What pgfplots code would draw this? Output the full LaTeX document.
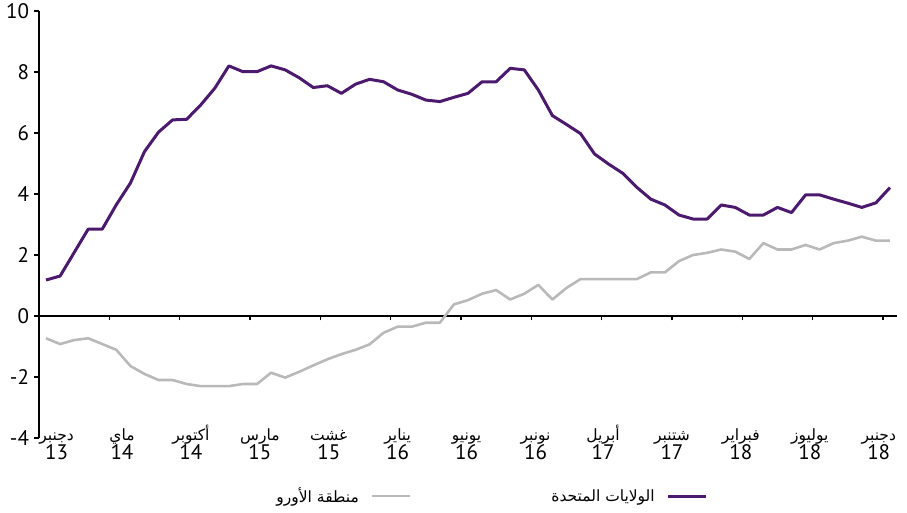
\documentclass[border=0pt]{standalone}
\usepackage{pgfplots}
\pgfplotsset{compat=1.18}
\usepackage{pgfplotstable}
\usepackage{fontspec}
\setmainfont{PT Sans}
\newfontfamily\arabicfont[Script=Arabic]{DejaVu Sans}
\TeXXeTstate=1
\newcommand{\AR}[1]{{\arabicfont\fontsize{15.5}{15}\selectfont\smash{\beginR #1\endR}\rule[-4pt]{0pt}{17pt}}}
\definecolor{uspurple}{RGB}{75,25,110}
\definecolor{eugray}{RGB}{185,185,185}

\pgfplotstableread{
i v
0 1.18
1 1.31
2 2.08
3 2.85
4 2.85
5 3.65
6 4.36
7 5.39
8 6.03
9 6.43
10 6.45
11 6.92
12 7.47
13 8.20
14 8.01
15 8.01
16 8.20
17 8.07
18 7.81
19 7.49
20 7.55
21 7.30
22 7.60
23 7.76
24 7.68
25 7.41
26 7.27
27 7.08
28 7.03
29 7.17
30 7.30
31 7.68
32 7.68
33 8.12
34 8.07
35 7.41
36 6.57
37 6.28
38 5.98
39 5.31
40 4.98
41 4.68
42 4.22
43 3.83
44 3.64
45 3.31
46 3.18
47 3.18
48 3.64
49 3.56
50 3.31
51 3.31
52 3.56
53 3.39
54 3.97
55 3.97
56 3.83
57 3.70
58 3.56
59 3.71
60 4.21
}\usdata

\pgfplotstableread{
i v
0 -0.73
1 -0.92
2 -0.79
3 -0.73
4 -0.92
5 -1.11
6 -1.64
7 -1.90
8 -2.10
9 -2.10
10 -2.23
11 -2.30
12 -2.30
13 -2.30
14 -2.23
15 -2.23
16 -1.86
17 -2.02
18 -1.83
19 -1.62
20 -1.42
21 -1.25
22 -1.11
23 -0.93
24 -0.55
25 -0.35
26 -0.35
27 -0.22
28 -0.22
29 0.38
30 0.52
31 0.73
32 0.85
33 0.54
34 0.73
35 1.02
36 0.54
37 0.92
38 1.21
39 1.21
40 1.21
41 1.21
42 1.21
43 1.43
44 1.43
45 1.80
46 2.00
47 2.07
48 2.18
49 2.11
50 1.87
51 2.39
52 2.18
53 2.18
54 2.33
55 2.18
56 2.39
57 2.47
58 2.60
59 2.47
60 2.47
}\eudata

\begin{document}
\begin{tikzpicture}[x=1pt,y=1pt]
\path[use as bounding box] (-39,-75) rectangle (868,438);
\begin{axis}[
  at={(0,0)}, anchor=south west,
  scale only axis, width=858pt, height=427pt,
  xmin=-0.5, xmax=60.5, ymin=-4, ymax=10,
  axis y line*=left, axis x line*=middle,
  xtick={4.5,9.5,...,59.5}, xticklabels={},
  ytick={-4,-2,...,10},
  tick align=outside,
  major tick length=4.5pt,
  tick style={black, line width=1.2pt},
  axis line style={black, line width=1.6pt},
  yticklabel style={font=\fontsize{21}{21}\selectfont, /pgf/number format/assume math mode=true, xshift=-2pt},
  legend style={draw=none, fill=none, at={(0.7797,-0.136)}, anchor=east,
    font=\arabicfont\fontsize{15.5}{15}\selectfont, inner sep=0pt, column sep=10pt},
  legend columns=2,
  legend plot pos=right,
  legend image code/.code={\draw[#1] (0pt,0pt) -- (38pt,0pt);},
  clip=false,
]
\addplot[eugray, line width=2.6pt, line join=round] table[x=i,y=v] {\eudata};
\addlegendentry{\beginR منطقة الأورو\endR}
\addplot[uspurple, line width=3pt, line join=round] table[x=i,y=v] {\usdata};
\addlegendentry{\hspace*{128pt}\beginR الولايات المتحدة\endR}
\end{axis}
\begin{axis}[
  at={(0,0)}, anchor=south west,
  scale only axis, width=858pt, height=427pt,
  xmin=-0.5, xmax=60.5, ymin=-4, ymax=10,
  axis line style={draw=none},
  ytick=\empty,
  major tick length=0pt,
  xtick={0.75,5.4,10.3,15.2,20.1,25,29.9,34.8,39.6,44.5,49.4,54.3,59.2},
  xticklabels={{\AR{دجنبر}\\13},{\AR{ماي}\\14},{\AR{أكتوبر}\\14},{\AR{مارس}\\15},{\AR{غشت}\\15},{\AR{يناير}\\16},{\AR{يونيو}\\16},{\AR{نونبر}\\16},{\AR{أبريل}\\17},{\AR{شتنبر}\\17},{\AR{فبراير}\\18},{\AR{يوليوز}\\18},{\AR{دجنبر}\\18}},
  xticklabel style={align=center, anchor=north, inner sep=0pt, yshift=11pt, font=\fontsize{21}{19}\selectfont},
]
\addplot[draw=none] coordinates {(0,0)};
\end{axis}
\end{tikzpicture}
\end{document}
